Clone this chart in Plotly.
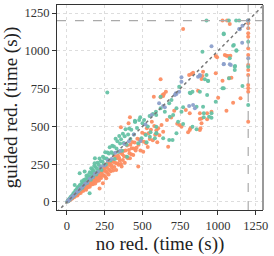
import plotly.graph_objects as go

# ---- data (seconds) ----
orange_x = [4,7,9,12,14,17,19,22,24,27,29,32,35,37,40,42,45,48,50,53,
            56,58,61,64,66,69,72,74,77,80,83,86,88,91,94,97,100,103,106,109,
            112,115,118,121,124,127,130,133,136,139,142,145,148,151,154,157,160,163,166,169,
            172,175,178,181,184,187,190,193,196,199,202,205,208,212,216,216,219,222,226,230,
            234,238,240,243,246,249,252,255,258,260,263,266,270,273,276,280,283,286,290,294,
            298,302,306,310,314,318,322,326,330,334,338,342,346,350,354,357,358,362,366,370,
            374,378,383,388,393,398,403,408,410,414,417,417,420,425,428,432,439,442,448,455,
            461,466,472,474,480,486,492,498,505,510,516,524,529,535,540,548,556,562,568,575,
            578,584,592,598,604,612,620,620,626,637,637,633,642,655,662,670,690,710,730,747,
            758,769,787,802,809,813,813,818,824,835,868,880,880,880,884,891,891,891,897,901,
            928,928,957,985,985,994,1001,1030,1030,1045,1056,1056,1067,1073,1078,1082,1089,1100,1149,1060,
            1200,1200,1200,1200,1200,1200,1200,1200,1200,1200,1200,1200,1200,1200]
orange_y = [4,6,9,9,13,12,19,18,16,25,23,28,23,36,32,30,41,40,33,51,
            43,51,43,60,53,43,65,58,76,56,71,65,83,60,77,87,73,100,85,74,
            99,87,110,86,104,81,118,104,133,97,122,109,139,100,126,141,115,142,128,162,
            117,147,132,167,147,122,167,147,186,139,172,160,193,142,90,177,162,200,158,198,
            180,124,226,175,207,212,171,230,201,157,231,194,259,218,182,244,212,263,203,244,
            229,272,208,264,232,302,258,212,290,254,308,246,291,273,329,494,251,234,315,278,
            337,302,260,341,299,374,290,520,344,323,560,289,378,315,355,397,311,354,394,341,
            359,419,234,379,413,340,403,458,333,398,449,388,487,364,454,416,478,531,409,696,
            503,444,474,395,487,441,812,692,509,465,701,708,714,730,543,366,559,604,518,509,
            498,1144,608,461,840,476,587,487,847,855,736,476,587,549,487,553,520,813,833,862,
            587,547,597,966,851,957,690,802,1200,972,968,604,966,818,1177,968,822,657,686,1200,
            1200,1182,1149,1116,1093,1016,972,906,873,840,774,752,730,531]

green_x = [3,5,8,10,13,15,18,20,23,25,28,30,33,35,38,40,43,45,48,51,
           51,54,56,59,61,64,67,70,72,75,78,81,84,84,87,90,93,96,99,102,
           105,109,112,115,117,119,122,126,129,133,136,140,143,147,150,151,155,158,161,162,
           166,170,173,177,180,183,185,186,190,194,198,202,206,210,215,220,224,229,234,238,
           243,248,253,258,262,267,268,272,278,283,288,294,300,305,311,316,322,328,334,340,
           346,352,358,364,370,376,382,388,395,398,405,412,420,426,443,450,450,452,464,472,
           478,485,494,500,511,522,527,535,547,549,553,569,582,589,591,591,591,593,620,620,
           637,648,677,677,681,692,699,703,725,725,736,743,758,769,769,818,813,831,831,858,
           858,880,897,901,906,906,913,924,924,928,933,935,941,957,957,985,1030,1038,1038,1038,
           1072,1073,1078,1100,1105,1111,1111,1113,1120,1122,1122,1140,1162,1200,1200,1200,1200]
green_y = [4,5,10,9,14,19,17,23,31,25,34,28,42,37,44,36,57,50,47,112,
           62,57,76,56,72,82,68,98,81,71,97,87,190,111,84,104,117,100,137,94,
           126,120,146,114,201,137,151,134,174,126,160,179,146,165,57,196,167,147,223,194,
           183,214,166,205,238,256,289,195,232,182,222,259,206,248,288,233,269,211,267,300,
           250,290,329,248,288,725,327,277,320,362,274,329,372,320,367,284,419,354,401,333,
           436,387,415,339,451,391,435,481,379,300,446,486,416,477,447,531,538,531,490,388,
           542,560,421,520,542,443,395,500,569,432,461,582,421,597,575,498,454,454,620,696,
           421,597,653,410,564,675,410,575,454,620,531,763,597,626,516,719,723,730,498,630,
           481,730,994,630,560,587,812,840,1200,708,802,800,564,587,558,663,752,1109,1115,752,
           1200,818,950,1034,1038,895,873,899,1200,1003,1001,1200,767,1060,895,642,1200]

blue_x = [5,12,20,28,36,45,55,65,75,85,95,108,120,135,150,168,185,205,225,248,
          270,295,320,350,380,410,443,487,520,560,610,637,648,714,721,725,743,758,758,809,
          835,847,868,880,880,957,1038,1038,1078,1085,1140,1144,1160,1162,1200,1200]
blue_y = [5,11,20,27,37,43,53,66,73,86,92,106,121,131,152,163,186,199,231,241,
          274,284,325,337,384,401,447,403,512,575,653,635,626,708,719,714,730,796,825,635,
          642,620,829,833,840,1030,911,913,911,906,1144,1142,1054,1166,950,1200]

timeout = 1200
x_range = [-66, 1298]
y_range = [-53, 1303]
tick_vals = [0, 250, 500, 750, 1000, 1250]

fig = go.Figure()
for xs, ys, col in [(orange_x, orange_y, "#fc8d62"),
                    (green_x, green_y, "#66c2a5"),
                    (blue_x, blue_y, "#8da0cb")]:
    fig.add_trace(go.Scatter(x=xs, y=ys, mode="markers",
                             marker=dict(color=col, size=4, opacity=0.95, line=dict(width=0)),
                             showlegend=False, hoverinfo="skip"))

# diagonal y = x
fig.add_trace(go.Scatter(x=[x_range[0], x_range[1]], y=[x_range[0], x_range[1]],
                         mode="lines", line=dict(color="#777777", width=1.5, dash="dot"),
                         showlegend=False, hoverinfo="skip"))
# timeout lines
fig.add_trace(go.Scatter(x=[x_range[0], x_range[1]], y=[timeout, timeout],
                         mode="lines", line=dict(color="#aaaaaa", width=1.2, dash="dash"),
                         showlegend=False, hoverinfo="skip"))
fig.add_trace(go.Scatter(x=[timeout, timeout], y=[y_range[0], y_range[1]],
                         mode="lines", line=dict(color="#aaaaaa", width=1.2, dash="dash"),
                         showlegend=False, hoverinfo="skip"))

font_family = "Liberation Serif"
axis_common = dict(
    tickvals=tick_vals, ticks="outside", ticklen=4, tickcolor="#333333",
    showline=True, linecolor="#333333", linewidth=1,
    showgrid=True, gridcolor="#dddddd", griddash="dot", gridwidth=1,
    zeroline=False, automargin=False,
    tickfont=dict(family=font_family, size=12.5, color="#333333"),
)
fig.update_xaxes(range=x_range, mirror=True,
                 title=dict(text="no red. (time (s))", standoff=3,
                            font=dict(family=font_family, size=19, color="#222222")),
                 **axis_common)
fig.update_yaxes(range=y_range, mirror=False,
                 title=dict(text="guided red. (time (s))", standoff=4,
                            font=dict(family=font_family, size=19, color="#222222")),
                 **axis_common)

# right spine (lighter grey in the reference)
fig.add_shape(type="line", xref="paper", yref="paper", x0=1, x1=1, y0=0, y1=1,
              line=dict(color="#999999", width=2))

fig.update_layout(width=274, height=256, margin=dict(l=57, r=11, t=5, b=46),
                  plot_bgcolor="white", paper_bgcolor="white",
                  font=dict(family=font_family))
fig.write_html("out.html", config={"displayModeBar": False},
               post_script="document.body.style.margin='0';document.body.style.overflow='hidden';")
